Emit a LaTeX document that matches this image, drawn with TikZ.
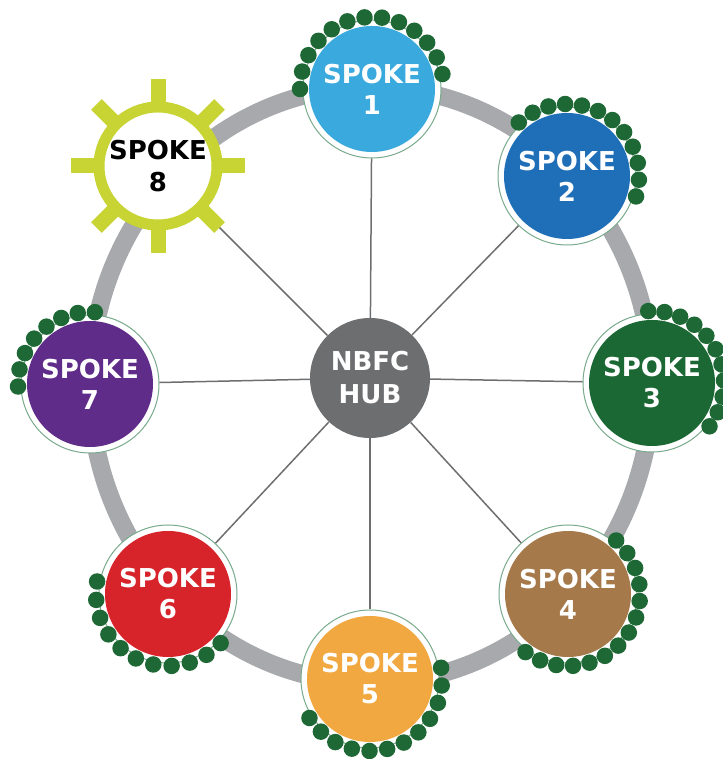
\documentclass[tikz,border=0pt]{standalone}
\usepackage{fontspec}
\setmainfont{DejaVu Sans}
\usetikzlibrary{positioning}

\definecolor{ringgray}{RGB}{167,169,172}
\definecolor{hubgray}{RGB}{109,110,112}
\definecolor{beadgreen}{RGB}{29,104,52}
\definecolor{rimgreen}{RGB}{120,170,140}
\definecolor{gearlime}{RGB}{199,212,52}
\definecolor{blueone}{RGB}{58,169,222}
\definecolor{bluetwo}{RGB}{31,111,184}
\definecolor{greenthree}{RGB}{27,104,52}
\definecolor{brownfour}{RGB}{165,121,74}
\definecolor{orangefive}{RGB}{242,168,64}
\definecolor{redsix}{RGB}{215,36,43}
\definecolor{purpleseven}{RGB}{95,44,138}

\tikzset{
    rim/.style={shape=circle, draw=rimgreen, line width=1pt, fill=white, minimum size=138pt, inner sep=0pt},
    spoke/.style={shape=circle, fill=#1, text=white, minimum size=126pt, inner sep=0pt, align=center,
                  font=\fontsize{26}{31}\selectfont\bfseries},
    gear/.style={shape=circle, draw=gearlime, line width=11pt, fill=white, minimum size=118pt, inner sep=0pt,
                 align=center, font=\fontsize{26}{32}\selectfont\bfseries},
    bead/.style={shape=circle, fill=beadgreen, minimum size=16.5pt, inner sep=0pt},
    link/.style={draw=hubgray, line width=1.5pt},
}

\begin{document}
\begin{tikzpicture}[x=1pt, y=1pt]
        \useasboundingbox (0,0) rectangle (722,759);

        % the wheel
        \draw[ringgray, line width=18pt] (371,374) ellipse [x radius=281pt, y radius=298pt];

        \node[shape=circle, fill=hubgray, text=white, minimum size=120pt, inner sep=0pt, align=center,
              font=\fontsize{26}{33}\selectfont\bfseries] (hub) at (370,381) {NBFC\\HUB};

        \node[rim] (r1) at (372,670) {};
        \node[spoke=blueone] (s1) at (r1) {SPOKE\\1};
        \node[rim] (r2) at (567,583) {};
        \node[spoke=bluetwo] (s2) at (r2) {SPOKE\\2};
        \node[rim] (r3) at (652,376) {};
        \node[spoke=greenthree] (s3) at (r3) {SPOKE\\3};
        \node[rim] (r4) at (568,165) {};
        \node[spoke=brownfour] (s4) at (r4) {SPOKE\\4};
        \node[rim] (r5) at (370,80) {};
        \node[spoke=orangefive] (s5) at (r5) {SPOKE\\5};
        \node[rim] (r6) at (168,165) {};
        \node[spoke=redsix] (s6) at (r6) {SPOKE\\6};
        \node[rim] (r7) at (90,375) {};
        \node[spoke=purpleseven] (s7) at (r7) {SPOKE\\7};
        \node[gear] (s8) at (158,593) {SPOKE\\8};

        \path[link] (hub) edge (r1) edge (r2) edge (r3) edge (r4)
                          edge (r5) edge (r6) edge (r7) edge (s8);

        % teeth of spoke 8
        \foreach \a in {0,45,...,315}
            \draw[gearlime, line width=15pt] (s8.center) ++(\a:60) -- ++(\a:27);

        % beads round the spokes
        \foreach \n/\a/\k/\d in {r1/180/13/14, r2/132/12/13.5, r3/93/11/13, r4/48/14/13.4,
                                 r5/9/12/14.2, r6/317/11/14.7, r7/182/8/13.7}
            \foreach \i in {1,...,\k}
                \path (\n.center) ++({\a-(\i-1)*\d}:72) node[bead] {};
\end{tikzpicture}
\end{document}
